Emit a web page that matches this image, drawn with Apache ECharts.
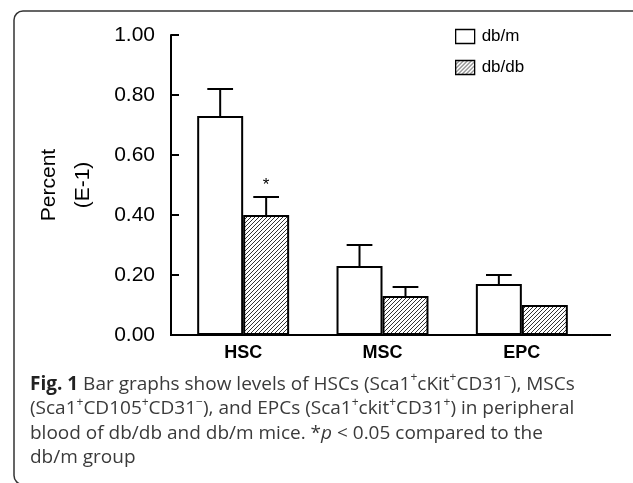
<!DOCTYPE html>
<html>
<head>
<meta charset="utf-8">
<script src="https://cdn.jsdelivr.net/npm/echarts@6/dist/echarts.min.js"></script>
<style>
html,body{margin:0;padding:0;background:#fff;}
#chart{width:633px;height:483px;}
</style>
</head>
<body>
<div id="chart"></div>
<script>
// ---- data ----
const categories = ['HSC', 'MSC', 'EPC'];
const seriesNames = ['db/m', 'db/db'];
const dbmValues = [0.73, 0.23, 0.17];
const dbmErrors = [0.09, 0.07, 0.03];
const dbdbValues = [0.40, 0.13, 0.10];
const dbdbErrors = [0.06, 0.03, 0];
const dbdbMarks = ['*', '', ''];
const yMin = 0, yMax = 1, yStep = 0.2;
const yAxisName = 'Percent\n(E-1)';
const captionLines = [
  '{b|Fig. 1} Bar graphs show levels of HSCs (Sca1{s|+}cKit{s|+}CD31{s|−}), MSCs',
  '(Sca1{s|+}CD105{s|+}CD31{s|−}), and EPCs (Sca1{s|+}ckit{s|+}CD31{s|+}) in peripheral',
  'blood of db/db and db/m mice. *{i|p} < 0.05 compared to the',
  'db/m group'
];

// ---- styles ----
const AXIS_FONT = '"Liberation Sans", Arial, sans-serif';
const CAP_FONT = '"Open Sans", "Noto Sans", sans-serif';
const CAP_SIZE = 19;
const BAR_RATIO = 0.33;

function hatch() {
  const c = document.createElement('canvas');
  c.width = 4; c.height = 4;
  const ctx = c.getContext('2d');
  ctx.fillStyle = '#fff';
  ctx.fillRect(0, 0, 4, 4);
  ctx.strokeStyle = '#333';
  ctx.lineWidth = 1;
  ctx.beginPath();
  ctx.moveTo(0, 4); ctx.lineTo(4, 0);
  ctx.moveTo(-1, 1); ctx.lineTo(1, -1);
  ctx.moveTo(3, 5); ctx.lineTo(5, 3);
  ctx.stroke();
  return c;
}
const hatchPattern = { image: hatch(), repeat: 'repeat' };

function errData(values, errors, marks) {
  return values.map((v, i) => [i, v, errors[i], marks ? marks[i] : '']);
}

function errRenderer(side) {
  return function (params, api) {
    const ci = api.value(0), v = api.value(1), e = api.value(2);
    const mark = api.value(3);
    const band = api.size([1, 0])[0];
    const barW = band * BAR_RATIO;
    const xc = api.coord([ci, 0])[0] + side * barW / 2;
    const yTop = api.coord([ci, v])[1];
    const yErr = api.coord([ci, v + e])[1];
    const capHalf = barW * 0.28;
    const children = [];
    const ls = { stroke: '#000', lineWidth: 2 };
    if (e > 0) {
      children.push({ type: 'line', shape: { x1: xc, y1: yTop, x2: xc, y2: yErr }, style: ls });
      children.push({ type: 'line', shape: { x1: xc - capHalf, y1: yErr, x2: xc + capHalf, y2: yErr }, style: ls });
    }
    if (mark) {
      children.push({ type: 'text', style: { text: mark, x: xc, y: yErr - 3, align: 'center', verticalAlign: 'bottom',
        font: '17px ' + AXIS_FONT, fill: '#000' } });
    }
    return { type: 'group', children: children };
  };
}

const chart = echarts.init(document.getElementById('chart'), null, { renderer: 'canvas' });

chart.setOption({
  animation: false,
  backgroundColor: '#fff',
  grid: { left: 173.5, right: 41.5, top: 35, bottom: 148, containLabel: false },
  legend: {
    data: seriesNames,
    orient: 'vertical',
    left: 455, top: 28,
    padding: 0,
    itemWidth: 19, itemHeight: 14, itemGap: 14,
    icon: 'rect',
    itemStyle: { borderColor: '#000', borderWidth: 1.3 },
    textStyle: { fontFamily: AXIS_FONT, fontSize: 17, color: '#000', padding: [0, 0, 0, 2] }
  },
  xAxis: {
    type: 'category',
    data: categories,
    axisLine: { show: true, lineStyle: { color: '#000', width: 2 },
      symbol: ['rect', 'rect'], symbolSize: [2, 19.5], symbolOffset: [6.25, 9.75] },
    axisTick: { show: false },
    axisLabel: { fontFamily: AXIS_FONT, fontSize: 18, fontWeight: 'bold', color: '#000', margin: 9 }
  },
  yAxis: {
    type: 'value',
    min: yMin, max: yMax, interval: yStep,
    offset: 2.5,
    name: yAxisName,
    nameLocation: 'middle',
    nameRotate: 90,
    nameGap: 71,
    nameTextStyle: { fontFamily: AXIS_FONT, fontSize: 21, color: '#000', lineHeight: 34 },
    axisLine: { show: true, lineStyle: { color: '#000', width: 2 } },
    axisTick: { show: true, inside: true, length: 8, lineStyle: { color: '#000', width: 2 } },
    splitLine: { show: false },
    axisLabel: { fontFamily: AXIS_FONT, fontSize: 21, color: '#000', margin: 16,
      formatter: v => v.toFixed(2) }
  },
  series: [
    { name: seriesNames[0], type: 'bar', data: dbmValues, barWidth: (BAR_RATIO * 100) + '%', barGap: '0%',
      itemStyle: { color: '#fff', borderColor: '#000', borderWidth: 2 }, z: 2 },
    { name: seriesNames[1], type: 'bar', data: dbdbValues, barWidth: (BAR_RATIO * 100) + '%', barGap: '0%',
      itemStyle: { color: hatchPattern, borderColor: '#000', borderWidth: 2 }, z: 2 },
    { name: 'err-dbm', type: 'custom', data: errData(dbmValues, dbmErrors), renderItem: errRenderer(-1), z: 5,
      encode: { x: 0, y: 1 } },
    { name: 'err-dbdb', type: 'custom', data: errData(dbdbValues, dbdbErrors, dbdbMarks), renderItem: errRenderer(1), z: 5,
      encode: { x: 0, y: 1 } }
  ],
  graphic: [
    { type: 'rect', shape: { x: 14, y: 11, width: 700, height: 473.5, r: 9 },
      style: { fill: 'none', stroke: '#333', lineWidth: 1.5 }, z: 100, silent: true },
    { type: 'text', x: 30, y: 372, z: 100,
      style: {
        text: captionLines.join('\n'),
        font: CAP_SIZE + 'px ' + CAP_FONT,
        fill: '#3a3a3a',
        lineHeight: 24.5,
        rich: {
          b: { fontFamily: CAP_FONT, fontSize: CAP_SIZE, fontWeight: 'bold', fill: '#222', lineHeight: 24.5 },
          s: { fontFamily: CAP_FONT, fontSize: 12, fill: '#3a3a3a', verticalAlign: 'top', lineHeight: 15 },
          i: { fontFamily: CAP_FONT, fontSize: CAP_SIZE, fontStyle: 'italic', fill: '#3a3a3a', lineHeight: 24.5 }
        }
      }
    }
  ]
});
</script>
</body>
</html>
